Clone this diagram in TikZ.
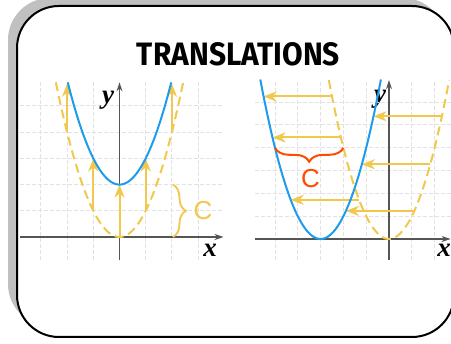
\documentclass[tikz,border=0pt]{standalone}
\usepackage{graphicx}
\usepackage{fontspec}
\setmainfont{Liberation Serif}
\newfontfamily\titlefont{Fira Sans}
\newfontfamily\csans{Liberation Sans}
\usetikzlibrary{arrows.meta,decorations.pathreplacing}
\definecolor{cblue}{RGB}{30,155,235}
\definecolor{cyel}{RGB}{242,200,76}
\definecolor{corange}{RGB}{255,75,0}
\definecolor{cgrid}{RGB}{226,226,226}
\definecolor{caxis}{RGB}{85,85,85}
\definecolor{cshadow}{RGB}{192,192,192}
\tikzset{
  gridline/.style={cgrid, line width=1pt, dash pattern=on 4pt off 2pt},
  axisline/.style={caxis, line width=1.3pt, -{Stealth[length=9pt,width=6pt]}},
  bluecurve/.style={cblue, line width=2pt},
  dashcurve/.style={cyel, line width=2pt, dash pattern=on 9pt off 5pt},
  shiftarrow/.style={cyel, line width=2pt, -{Stealth[length=13pt,width=10pt,inset=4pt]}},
  axlabel/.style={font=\fontsize{27}{27}\selectfont\bfseries\itshape, inner sep=0pt},
  clabel/.style={font=\csans\fontsize{26}{26}\selectfont, inner sep=0pt},
}
\begin{document}
\begin{tikzpicture}[x=1pt,y=-1pt]
\useasboundingbox (0,0) rectangle (451,344);
\clip (0,0) rectangle (451,344);
% frame
\fill[cshadow, rounded corners=42pt] (8,-2) rectangle (445,326);
\draw[line width=2pt, fill=white, rounded corners=42pt] (17,6) rectangle (454,337);
% title
\node[inner sep=0pt] (title) at (238.5,54) {\resizebox{203pt}{23pt}{\titlefont\bfseries TRANSLATIONS}};
% ---------- left graph ----------
\begin{scope}[shift={(119.5,237)}, x=26.2pt, y=26.2pt]
  \foreach \i in {-3,-2,-1,1,2,3} \draw[gridline] (\i,-0.88) -- (\i,5.9);
  \foreach \j in {1,...,5} \draw[gridline] (-3.8,\j) -- (3.95,\j);
  \draw[axisline] (-3.8,0) -- (3.97,0);
  \draw[axisline] (0,-0.88) -- (0,5.9);
  \draw[dashcurve] plot[domain=-2.43:2.43, samples=60] (\x,{\x*\x});
  \draw[shiftarrow] (0,0) -- (0,2);
  \draw[shiftarrow] (-1,1) -- (-1,3);
  \draw[shiftarrow] (1,1) -- (1,3);
  \draw[shiftarrow] (-2,4) -- (-2,5.85);
  \draw[shiftarrow] (2,4) -- (2,5.85);
  \draw[bluecurve] plot[domain=-1.975:1.975, samples=60] (\x,{\x*\x+2});
  \draw[cyel, line width=1.8pt, decorate, decoration={brace, amplitude=13pt}] (2.04,2) -- (2.04,0);
\end{scope}
\node[clabel, text=cyel] (cl) at (203,211) {C};
\node[axlabel] (yl) at (108,100) {y};
\node[axlabel] (xl) at (210,250) {x};
% ---------- right graph ----------
\node[axlabel] (yr) at (380,99) {y};
\node[axlabel] (xr) at (444,250) {x};
\begin{scope}[shift={(389,239)}, x=22.8pt, y=22.8pt]
  \foreach \i in {-5,-4,-3,-2,-1,1,2,3} \draw[gridline] (\i,-0.92) -- (\i,6.97);
  \foreach \j in {1,...,6} \draw[gridline] (-5.88,\j) -- (3.2,\j);
  \draw[axisline] (-5.88,0) -- (2.7,0);
  \draw[axisline] (0,-0.92) -- (0,6.97);
  \draw[dashcurve] plot[domain=-2.64:2.64, samples=60] (\x,{\x*\x});
  \foreach \a in {-2.5,2.32,-2.11,1.81,-1.31,1.11}
    \draw[shiftarrow] (\a,{\a*\a}) -- ({\a-3},{\a*\a});
  \draw[bluecurve] plot[domain=-5.645:-0.355, samples=60] (\x,{(\x+3)*(\x+3)});
  \draw[corange, line width=2pt, decorate, decoration={brace, amplitude=14pt}] (-2,4) -- (-5,4);
\end{scope}
\node[clabel, text=corange] (cr) at (310.5,178.5) {C};
\end{tikzpicture}
\end{document}
